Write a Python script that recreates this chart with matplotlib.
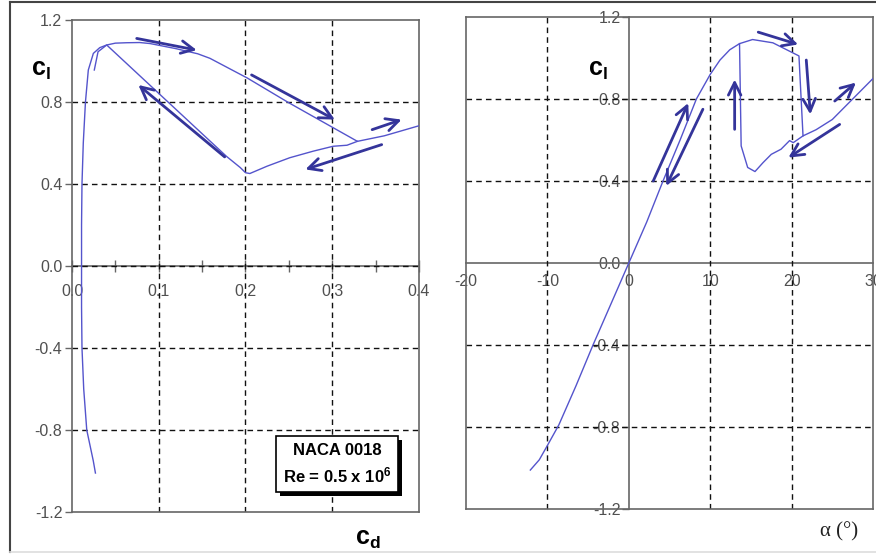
import matplotlib
matplotlib.use("Agg")
import matplotlib.pyplot as plt
from matplotlib.lines import Line2D
from matplotlib import patheffects

plt.rcParams["font.family"] = ["Liberation Sans", "DejaVu Sans"]
plt.rcParams["mathtext.fontset"] = "custom"
plt.rcParams["mathtext.rm"] = "Liberation Sans"
plt.rcParams["mathtext.bf"] = "Liberation Sans:bold"
plt.rcParams["mathtext.it"] = "Liberation Sans:italic"
plt.rcParams["axes.unicode_minus"] = False

# Drag polar, increasing angle of attack (cd, cl).
cd_up = [0.027, 0.0245, 0.021, 0.017, 0.0135, 0.0115, 0.011, 0.011, 0.011, 0.0115, 0.013, 0.0155,
         0.0188, 0.0246, 0.032, 0.040, 0.050, 0.063, 0.078, 0.09, 0.12, 0.145, 0.159, 0.202, 0.25,
         0.329, 0.36, 0.4]
cl_up = [-1.01, -0.95, -0.88, -0.8, -0.6, -0.4, -0.2, 0.0, 0.2, 0.4, 0.6, 0.8,
         0.956, 1.037, 1.065, 1.078, 1.087, 1.089, 1.09, 1.085, 1.06, 1.035, 1.013, 0.917, 0.796,
         0.608, 0.635, 0.684]
# Drag polar, decreasing angle of attack.
cd_down = [0.329, 0.317, 0.301, 0.278, 0.251, 0.225, 0.205, 0.2, 0.194, 0.178, 0.040, 0.030, 0.0257]
cl_down = [0.608, 0.589, 0.584, 0.56, 0.528, 0.487, 0.451, 0.455, 0.48, 0.535, 1.078, 1.045, 0.956]

# Lift curve, increasing angle of attack (alpha, cl).
alpha_up = [-12.1, -11.0, -10.0, -8.6, -6.5, -4.4, -2.2, 0.0, 2.2, 4.2, 6.3, 8.3, 10.0, 11.2, 12.4,
            13.6, 15.2, 17.7, 20.9, 21.4, 23.0, 25.0, 27.0, 30.0]
cl_alpha_up = [-1.01, -0.96, -0.89, -0.79, -0.6, -0.4, -0.2, 0.0, 0.2, 0.4, 0.6, 0.8, 0.92, 0.99, 1.04,
               1.07, 1.09, 1.074, 1.01, 0.62, 0.65, 0.70, 0.78, 0.90]
# Lift curve, decreasing angle of attack (stalled branch back to reattachment).
alpha_down = [21.4, 20.2, 19.75, 18.7, 17.5, 16.5, 15.5, 14.6, 13.8, 13.6]
cl_alpha_down = [0.62, 0.587, 0.597, 0.555, 0.53, 0.49, 0.446, 0.466, 0.571, 1.07]

# Direction arrows (tail x, tail y, head x, head y).
arrows_polar = [(0.0746, 1.11, 0.1438, 1.053), (0.207, 0.932, 0.303, 0.714),
                (0.346, 0.665, 0.380, 0.714), (0.357, 0.592, 0.269, 0.471),
                (0.176, 0.532, 0.0765, 0.883)]
arrows_lift = [(3.0, 0.40, 7.3, 0.78), (9.1, 0.75, 4.6, 0.376), (13.0, 0.652, 13.0, 0.895),
               (15.9, 1.126, 20.8, 1.066), (21.8, 0.99, 22.3, 0.725), (25.3, 0.79, 27.9, 0.88),
               (25.9, 0.676, 19.6, 0.514)]

cl_ticks = [-1.2, -0.8, -0.4, 0.0, 0.4, 0.8, 1.2]
cd_ticks = [0.0, 0.1, 0.2, 0.3, 0.4]
cd_minor = [0.05, 0.15, 0.25, 0.35]
alpha_ticks = [-20, -10, 0, 10, 20, 30]

line_color = "#5454cc"
arrow_color = "#34349a"
spine_color = "#666666"
label_color = "#505050"
tick_size = 11.5

fig = plt.figure(figsize=(8.76, 5.55), dpi=100)
ax1 = fig.add_axes([0.0822, 0.0775, 0.3961, 0.8865])
ax2 = fig.add_axes([0.532, 0.0829, 0.4646, 0.8865])

for ax in (ax1, ax2):
    for s in ax.spines.values():
        s.set_color(spine_color)
        s.set_linewidth(1.2)
    ax.xaxis.remove_overlapping_locs = False
    ax.yaxis.remove_overlapping_locs = False
    ax.grid(which="minor", color="#111111", linestyle=(0, (4, 3)), linewidth=1.0)
    ax.grid(which="major", visible=False)

# ---- left: drag polar ----
ax1.plot(cd_up, cl_up, color=line_color, lw=1.0, zorder=3)
ax1.plot(cd_down, cl_down, color=line_color, lw=1.0, zorder=3)
ax1.set_xlim(0, 0.4)
ax1.set_ylim(-1.2, 1.2)
ax1.set_yticks(cl_ticks)
ax1.set_yticklabels([f"{v:.1f}" for v in cl_ticks])
ax1.set_yticks([v for v in cl_ticks if abs(v) < 1.2], minor=True)
ax1.set_xticks([0.1, 0.2, 0.3], minor=True)
ax1.tick_params(axis="y", which="major", direction="out", length=5, width=1, color=spine_color,
                labelsize=tick_size, labelcolor=label_color, pad=2)
ax1.tick_params(which="minor", length=0)
ax1.tick_params(axis="x", which="major", bottom=False, labelbottom=False)

sx1 = ax1.secondary_xaxis(0.5)
sx1.set_alignment("bottom")
sx1.set_xticks(cd_ticks)
sx1.set_xticklabels([f"{v:.1f}" for v in cd_ticks])
sx1.set_xticks(cd_minor, minor=True)
sx1.spines["bottom"].set_color(spine_color)
sx1.spines["bottom"].set_linewidth(1.2)
sx1.tick_params(which="both", direction="inout", length=8, width=1, color=spine_color,
                labelsize=tick_size, labelcolor=label_color, pad=9)

for x0, y0, x1, y1 in arrows_polar:
    ax1.annotate("", xy=(x1, y1), xytext=(x0, y0),
                 arrowprops=dict(arrowstyle="->,head_length=0.5,head_width=0.25", lw=2.0,
                                 color=arrow_color, mutation_scale=18, shrinkA=0, shrinkB=0),
                 zorder=4)

box = ax1.text(0.3057, -0.966, "NACA 0018\nRe = 0.5 x 10$^{\\mathbf{6}}$", ha="center", va="center",
               fontsize=12, fontweight="bold", linespacing=1.45,
               bbox=dict(boxstyle="square,pad=0.4", fc="white", ec="black", lw=1.2), zorder=6)
box.get_bbox_patch().set_path_effects([
    patheffects.SimplePatchShadow(offset=(3, -3), shadow_rgbFace="black", alpha=1.0),
    patheffects.Normal()])

# ---- right: lift curve ----
ax2.plot(alpha_up, cl_alpha_up, color=line_color, lw=1.0, zorder=3)
ax2.plot(alpha_down, cl_alpha_down, color=line_color, lw=1.0, zorder=3)
ax2.set_xlim(-20, 30)
ax2.set_ylim(-1.2, 1.2)
ax2.set_xticks([-10, 10, 20], minor=True)
ax2.set_yticks([-0.8, -0.4, 0.4, 0.8], minor=True)
ax2.tick_params(which="both", left=False, bottom=False, labelleft=False, labelbottom=False, length=0)

sy2 = ax2.secondary_yaxis(0.4)
sy2.set_yticks(cl_ticks)
sy2.set_yticklabels([f"{v:.1f}" for v in cl_ticks])
sy2.spines["left"].set_color(spine_color)
sy2.spines["left"].set_linewidth(1.2)
sy2.tick_params(direction="out", length=5, width=1, color=spine_color, labelsize=tick_size,
                labelcolor=label_color, pad=1)
sx2 = ax2.secondary_xaxis(0.5)
sx2.set_alignment("bottom")
sx2.set_xticks(alpha_ticks)
sx2.spines["bottom"].set_color(spine_color)
sx2.spines["bottom"].set_linewidth(1.2)
sx2.tick_params(length=0, labelsize=tick_size, labelcolor=label_color, pad=8)

for x0, y0, x1, y1 in arrows_lift:
    ax2.annotate("", xy=(x1, y1), xytext=(x0, y0),
                 arrowprops=dict(arrowstyle="->,head_length=0.5,head_width=0.25", lw=2.0,
                                 color=arrow_color, mutation_scale=18, shrinkA=0, shrinkB=0),
                 zorder=4)

# axis titles
fig.text(41 / 876, 1 - 70 / 555, r"$\mathbf{c_l}$", fontsize=18, ha="center", va="center")
fig.text(598 / 876, 1 - 70 / 555, r"$\mathbf{c_l}$", fontsize=18, ha="center", va="center")
fig.text(368 / 876, 1 - 539 / 555, r"$\mathbf{c_d}$", fontsize=18, ha="center", va="center")
fig.text(839 / 876, 1 - 532 / 555, "α (°)", fontsize=15, ha="center", va="center",
         family=["Liberation Serif", "DejaVu Serif"], color="#222222")

# outer frame of the picture
fig.add_artist(Line2D([10 / 876, 1.0], [1 - 2 / 555, 1 - 2 / 555], color="#444444", lw=1.5))
fig.add_artist(Line2D([10 / 876, 10 / 876], [1 - 2 / 555, 3 / 555], color="#444444", lw=1.5))
fig.add_artist(Line2D([10 / 876, 1.0], [3 / 555, 3 / 555], color="#dddddd", lw=1.2))

fig.savefig("out.png", dpi=100)
